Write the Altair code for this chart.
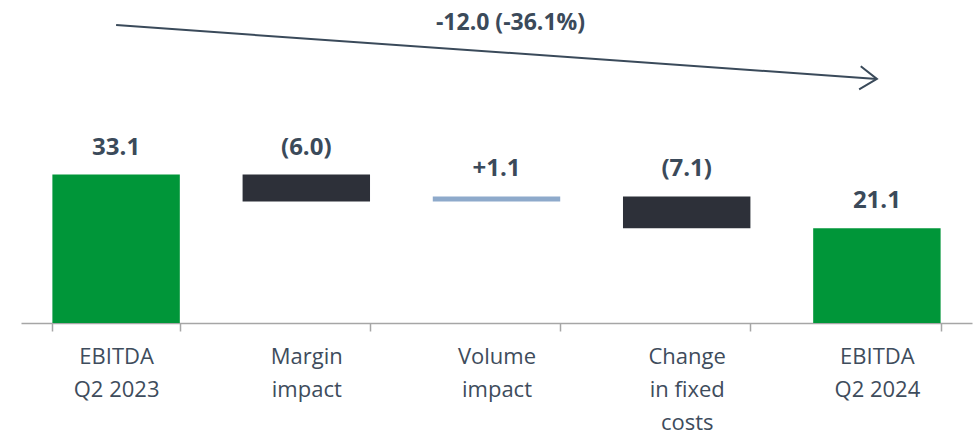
import altair as alt
import pandas as pd

# EBITDA bridge, Q2 2023 -> Q2 2024 (EUR m)
categories = ["EBITDA\nQ2 2023", "Margin\nimpact", "Volume\nimpact",
              "Change\nin fixed\ncosts", "EBITDA\nQ2 2024"]
values = [33.1, -6.0, 1.1, -7.1, 21.1]
kinds = ["total", "delta", "delta", "delta", "total"]
change_label = "-12.0 (-36.1%)"

# build the floating segments of the bridge
rows = []
running = 0.0
for cat, val, kind in zip(categories, values, kinds):
    if kind == "total":
        start, end = 0.0, val
        running = val
        label = f"{val:.1f}"
        group = "total"
    else:
        start, end = running, running + val
        running = end
        label = f"({abs(val):.1f})" if val < 0 else f"+{val:.1f}"
        group = "neg" if val < 0 else "pos"
    rows.append({"cat": cat, "start": start, "end": end,
                 "top": max(start, end), "label": label, "group": group})
bars = pd.DataFrame(rows)

# overall change arrow, drawn parallel above the two totals
arrow_lift = 33.3
arrow = pd.DataFrame([{
    "x1": categories[0], "x2": categories[-1],
    "y1": values[0] + arrow_lift, "y2": values[-1] + arrow_lift,
}])
head = pd.DataFrame([{"cat": categories[-1], "y": values[-1] + arrow_lift}])
caption = pd.DataFrame([{"cat": categories[2],
                         "y": (values[0] + values[-1]) / 2 + arrow_lift,
                         "text": change_label}])

FONT = "Open Sans"
TEXT_COLOR = "#3b4a5a"

x_scale = alt.Scale(domain=categories, paddingInner=0.33, paddingOuter=0.165)
y_scale = alt.Scale(domain=[0, 72], nice=False)

x_enc = alt.X("cat:N", scale=x_scale, sort=categories, title=None,
              axis=alt.Axis(labelAngle=0, labelExpr="split(datum.label, '\\n')",
                            labelFont=FONT, labelFontSize=22, labelColor="#3e4c5c",
                            labelLineHeight=33, labelPadding=15,
                            domainColor="#a6a6a6", domainWidth=1.5,
                            tickColor="#a6a6a6", tickWidth=1.5, tickSize=8,
                            tickBand="extent", grid=False))

bar_layer = alt.Chart(bars).mark_bar().encode(
    x=x_enc,
    y=alt.Y("start:Q", scale=y_scale, axis=None),
    y2="end:Q",
    color=alt.Color("group:N", legend=None,
                    scale=alt.Scale(domain=["total", "neg", "pos"],
                                    range=["#009639", "#2d3039", "#8eaacb"])),
)

value_labels = alt.Chart(bars).mark_text(
    font=FONT, fontSize=24, fontWeight="bold", color=TEXT_COLOR,
    baseline="middle", dy=-27,
).encode(
    x=alt.X("cat:N", scale=x_scale, sort=categories),
    y=alt.Y("top:Q", scale=y_scale),
    text="label:N",
)

arrow_line = alt.Chart(arrow).mark_rule(color="#3a4a5a", strokeWidth=2).encode(
    x=alt.X("x1:N", scale=x_scale, sort=categories),
    x2="x2:N",
    y=alt.Y("y1:Q", scale=y_scale),
    y2="y2:Q",
)

arrow_head = alt.Chart(head).mark_point(
    shape="M-1,-0.68L0,0L-1,0.68", size=1156, filled=False,
    stroke="#3a4a5a", strokeWidth=2, angle=4, opacity=1,
).encode(
    x=alt.X("cat:N", scale=x_scale, sort=categories),
    y=alt.Y("y:Q", scale=y_scale),
)

arrow_text = alt.Chart(caption).mark_text(
    font=FONT, fontSize=23, fontWeight="bold", color=TEXT_COLOR,
    baseline="middle", dx=14, dy=-29,
).encode(
    x=alt.X("cat:N", scale=x_scale, sort=categories),
    y=alt.Y("y:Q", scale=y_scale),
    text="text:N",
)

chart = alt.layer(bar_layer, value_labels, arrow_line, arrow_head, arrow_text).properties(
    width=951, height=323,
    autosize=alt.AutoSizeParams(type="none"),
    padding={"left": 21, "top": 0, "right": 3, "bottom": 112},
    background="white",
).configure_view(stroke=None)

chart.save("out.html", embed_options={"renderer": "svg", "actions": False})
